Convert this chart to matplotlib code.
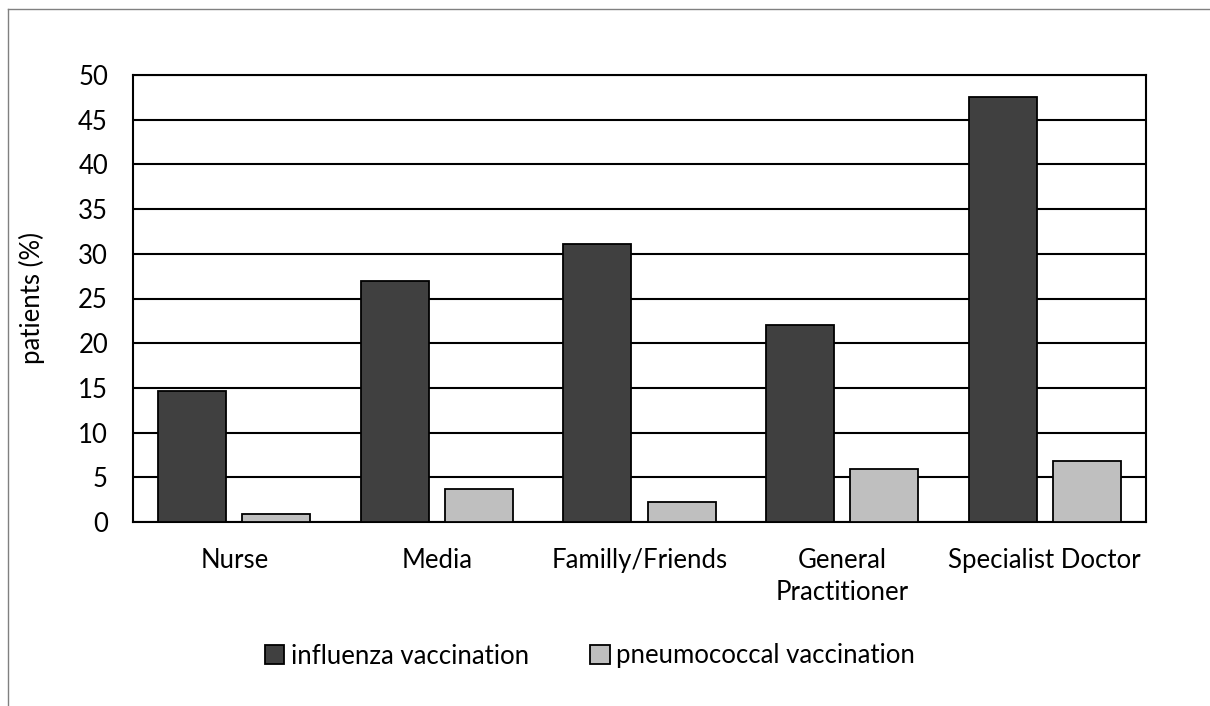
import numpy as np
import matplotlib.pyplot as plt
from matplotlib.lines import Line2D

plt.rcParams['font.family'] = ['Lato', 'DejaVu Sans']

categories = ['Nurse', 'Media', 'Familly/Friends', 'General\nPractitioner', 'Specialist Doctor']
influenza = [14.6, 27.0, 31.1, 22.0, 47.5]
pneumococcal = [0.9, 3.7, 2.2, 5.9, 6.8]

fs = 18.5

fig = plt.figure(figsize=(12.1, 7.06), dpi=100)
ax = fig.add_axes([133 / 1210, 1 - 522 / 706, (1146 - 133) / 1210, (522 - 75) / 706])

x = np.arange(len(categories))
w = 0.336
ax.bar(x - 0.208, influenza, w, color='#404040', edgecolor='black', linewidth=1.3,
       label='influenza vaccination', zorder=3)
ax.bar(x + 0.208, pneumococcal, w, color='#bfbfbf', edgecolor='black', linewidth=1.3,
       label='pneumococcal vaccination', zorder=3)

ax.set_xlim(-0.5, len(categories) - 0.5)
ax.set_ylim(0, 50)
ax.set_yticks(range(0, 51, 5))
ax.set_xticks(x)
ax.set_xticklabels(categories, fontsize=fs, linespacing=1.35)
ax.tick_params(axis='y', labelsize=fs, length=0, pad=18)
ax.tick_params(axis='x', length=0, pad=19)
ax.yaxis.grid(True, color='black', linewidth=1.5, zorder=0)
ax.set_axisbelow(True)
for s in ax.spines.values():
    s.set_color('black')
    s.set_linewidth(1.5)

ax.set_ylabel('patients (%)', fontsize=fs, labelpad=24)

ax.legend(loc='center', bbox_to_anchor=(590 / 1210, 1 - 656 / 706), bbox_transform=fig.transFigure,
          ncol=2, frameon=False, fontsize=fs, handlelength=0.75, handleheight=0.75,
          handletextpad=0.25, columnspacing=2.4)

# outer frame (top and left edges visible)
fig.add_artist(Line2D([8 / 1210, 1], [1 - 9 / 706, 1 - 9 / 706], color='#808080', linewidth=1.0))
fig.add_artist(Line2D([8 / 1210, 8 / 1210], [0, 1 - 9 / 706], color='#808080', linewidth=1.0))

fig.savefig('out.png', dpi=100)
